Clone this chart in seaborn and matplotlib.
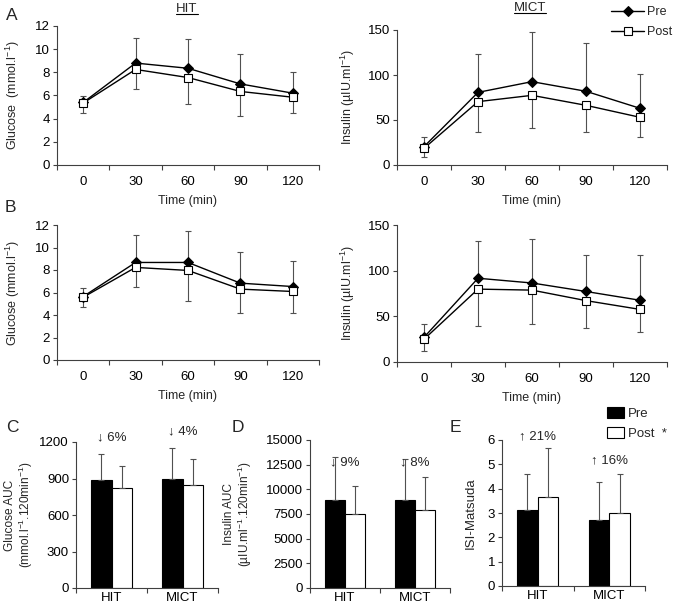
import numpy as np
import pandas as pd
import matplotlib
matplotlib.use('Agg')
import matplotlib.pyplot as plt
import seaborn as sns
from matplotlib.lines import Line2D
from matplotlib.patches import Patch

# OGTT time points
times = ['0', '30', '60', '90', '120']

# panel A (glucose / insulin), mean and SD
a_glu_pre = [5.4, 8.8, 8.35, 7.0, 6.2]
a_glu_post = [5.35, 8.25, 7.55, 6.35, 5.85]
a_glu_pre_sd = [0.55, 2.2, 2.5, 2.55, 1.8]
a_glu_post_sd = [0.9, 1.65, 2.25, 2.15, 1.4]

a_ins_pre = [20.4, 80.7, 92.6, 81.9, 63.0]
a_ins_post = [18.5, 70.4, 77.4, 66.3, 53.0]
a_ins_pre_sd = [10.3, 42.3, 55.4, 54.1, 37.7]
a_ins_post_sd = [10.0, 34.1, 36.3, 30.0, 22.3]

# panel B
b_glu_pre = [5.64, 8.67, 8.67, 6.83, 6.53]
b_glu_post = [5.58, 8.23, 7.96, 6.3, 6.09]
b_glu_pre_sd = [0.8, 2.41, 2.76, 2.73, 2.29]
b_glu_post_sd = [0.89, 1.76, 2.7, 2.14, 1.87]

b_ins_pre = [27.0, 91.7, 86.5, 77.2, 67.6]
b_ins_post = [24.9, 79.8, 78.7, 67.2, 57.6]
b_ins_pre_sd = [15.0, 41.2, 47.9, 39.8, 50.1]
b_ins_post_sd = [13.0, 40.1, 36.7, 30.4, 24.9]

# panels C-E (bars)
groups = ['HIT', 'MICT']
glu_auc_pre = [890, 900]
glu_auc_post = [825, 850]
glu_auc_pre_sd = [210, 250]
glu_auc_post_sd = [175, 210]

ins_auc_pre = [8900, 8900]
ins_auc_post = [7550, 7900]
ins_auc_pre_sd = [4400, 4150]
ins_auc_post_sd = [2830, 3330]

isi_pre = [3.12, 2.71]
isi_post = [3.64, 2.99]
isi_pre_sd = [1.48, 1.55]
isi_post_sd = [2.03, 1.6]

glu_auc_change = ['\u2193 6%', '\u2193 4%']
ins_auc_change = ['\u2193 9%', '\u2193 8%']
isi_change = ['\u2191 21%', '\u2191 16%']

sns.set_style('ticks')
plt.rcParams['font.family'] = ['Liberation Sans', 'DejaVu Sans']
plt.rcParams['mathtext.fontset'] = 'custom'
plt.rcParams['mathtext.rm'] = 'Liberation Sans'
plt.rcParams['mathtext.default'] = 'regular'
plt.rcParams['axes.edgecolor'] = '#404040'
plt.rcParams['xtick.color'] = '#404040'
plt.rcParams['ytick.color'] = '#404040'
plt.rcParams['xtick.labelcolor'] = 'black'
plt.rcParams['ytick.labelcolor'] = 'black'
plt.rcParams['axes.linewidth'] = 0.8

W, H = 675, 608
fig = plt.figure(figsize=(W / 100, H / 100), dpi=100)


def px_axes(left, top, right, bottom):
    return fig.add_axes([left / W, 1 - bottom / H, (right - left) / W, (bottom - top) / H])


ERR = '#505050'
TICK_FS = 9.5
LAB_FS = 9


def line_panel(ax, pre, post, pre_sd, post_sd, ymax, ystep, ylabel):
    x = np.arange(len(times))
    ax.errorbar(x, pre, yerr=[np.zeros(len(x)), pre_sd], fmt='none', ecolor=ERR,
                elinewidth=0.8, capsize=2.5, capthick=0.8, zorder=1)
    ax.errorbar(x, post, yerr=[post_sd, np.zeros(len(x))], fmt='none', ecolor=ERR,
                elinewidth=0.8, capsize=2.5, capthick=0.8, zorder=1)
    sns.lineplot(x=x, y=pre, ax=ax, color='black', lw=1, marker='D', markersize=5.5,
                 markerfacecolor='black', markeredgecolor='black', label='Pre', legend=False, zorder=3)
    sns.lineplot(x=x, y=post, ax=ax, color='black', lw=1, marker='s', markersize=6,
                 markerfacecolor='white', markeredgecolor='black', markeredgewidth=0.8,
                 label='Post', legend=False, zorder=4)
    ax.set_xlim(-0.5, len(times) - 0.5)
    ax.set_xticks(x)
    ax.set_xticklabels(times)
    ax.set_xticks(np.arange(-0.5, len(times), 1), minor=True)
    ax.tick_params(axis='x', which='major', length=0, pad=8, labelsize=TICK_FS)
    ax.tick_params(axis='x', which='minor', length=3.5, width=0.8, direction='out')
    ax.set_ylim(0, ymax)
    ax.set_yticks(np.arange(0, ymax + 0.1, ystep))
    ax.tick_params(axis='y', length=3, width=0.8, labelsize=TICK_FS, pad=2)
    ax.set_xlabel('Time (min)', fontsize=LAB_FS, labelpad=5)
    ax.set_ylabel(ylabel, fontsize=LAB_FS)
    sns.despine(ax=ax)


def bar_panel(ax, pre, post, pre_sd, post_sd, ymax, ystep, ylabel, ylabel_fs, changes, text_y):
    df = pd.DataFrame({'group': groups * 2,
                       'time': ['Pre'] * len(groups) + ['Post'] * len(groups),
                       'value': list(pre) + list(post)})
    sns.barplot(data=df, x='group', y='value', hue='time', ax=ax,
                palette={'Pre': 'black', 'Post': 'white'}, edgecolor='black',
                linewidth=0.8, width=0.58, errorbar=None, legend=False)
    for cont, sd in zip(ax.containers, [pre_sd, post_sd]):
        xs = [b.get_x() + b.get_width() / 2 for b in cont]
        hs = [b.get_height() for b in cont]
        ax.errorbar(xs, hs, yerr=[np.zeros(len(xs)), sd], fmt='none', ecolor=ERR,
                    elinewidth=0.8, capsize=2.5, capthick=0.8, zorder=1)
    for i, (s, ty) in enumerate(zip(changes, text_y)):
        ax.text(i, ty, s, ha='center', va='center', fontsize=TICK_FS, clip_on=False)
    ax.set_xlim(-0.5, len(groups) - 0.5)
    ax.set_xticks(np.arange(-0.5, len(groups), 1), minor=True)
    ax.tick_params(axis='x', which='major', length=0, pad=3, labelsize=TICK_FS)
    ax.tick_params(axis='x', which='minor', length=3.5, width=0.8, direction='out')
    ax.set_ylim(0, ymax)
    ax.set_yticks(np.arange(0, ymax + 0.01, ystep))
    ax.tick_params(axis='y', length=3, width=0.8, labelsize=TICK_FS, pad=2)
    ax.set_xlabel('')
    ax.set_ylabel(ylabel, fontsize=ylabel_fs, linespacing=1.05)
    sns.despine(ax=ax)


axA1 = px_axes(57, 26, 319, 165)
axA2 = px_axes(397, 30, 667, 165)
axB1 = px_axes(57, 225, 319, 360)
axB2 = px_axes(397, 225, 667, 362)
axC = px_axes(76, 442, 218, 588)
axD = px_axes(310, 440, 450, 588)
axE = px_axes(502, 440, 645, 586)

line_panel(axA1, a_glu_pre, a_glu_post, a_glu_pre_sd, a_glu_post_sd, 12, 2,
           'Glucose  (mmol.l$^{-1}$)')
line_panel(axA2, a_ins_pre, a_ins_post, a_ins_pre_sd, a_ins_post_sd, 150, 50,
           'Insulin (\u00b5IU.ml$^{-1}$)')
line_panel(axB1, b_glu_pre, b_glu_post, b_glu_pre_sd, b_glu_post_sd, 12, 2,
           'Glucose (mmol.l$^{-1}$)')
line_panel(axB2, b_ins_pre, b_ins_post, b_ins_pre_sd, b_ins_post_sd, 150, 50,
           'Insulin (\u00b5IU.ml$^{-1}$)')

bar_panel(axC, glu_auc_pre, glu_auc_post, glu_auc_pre_sd, glu_auc_post_sd, 1200, 300,
          'Glucose AUC\n(mmol.l$^{-1}$.120min$^{-1}$)', 8.6, glu_auc_change, [1235, 1285])
bar_panel(axD, ins_auc_pre, ins_auc_post, ins_auc_pre_sd, ins_auc_post_sd, 15000, 2500,
          'Insulin AUC\n(\u00b5IU.ml$^{-1}$.120min$^{-1}$)', 8.6, ins_auc_change, [12700, 12700])
bar_panel(axE, isi_pre, isi_post, isi_pre_sd, isi_post_sd, 6, 1,
          'ISI-Matsuda', 9.5, isi_change, [6.15, 5.15])

# y label anchors (right edge of the rotated label)
for ax in (axA1, axB1):
    ax.yaxis.set_label_coords(-0.132, 0.5)
for ax in (axA2, axB2):
    ax.yaxis.set_label_coords(-0.15, 0.5)
axC.yaxis.set_label_coords(-0.29, 0.5)
axD.yaxis.set_label_coords(-0.40, 0.5)
axE.yaxis.set_label_coords(-0.175, 0.5)

# panel letters
for s, x, y in [('A', 12, 15), ('B', 10, 207), ('C', 12, 428), ('D', 238, 428), ('E', 455, 428)]:
    fig.text(x / W, 1 - y / H, s, fontsize=12.5, ha='center', va='center')

# underlined column titles
fig.canvas.draw()
for s, x, y in [('HIT', 187, 9), ('MICT', 530, 8)]:
    t = fig.text(x / W, 1 - y / H, s, fontsize=9.5, ha='center', va='center')
    fig.canvas.draw()
    bb = t.get_window_extent().transformed(fig.transFigure.inverted())
    fig.add_artist(Line2D([bb.x0, bb.x1], [bb.y0 + 0.001, bb.y0 + 0.001],
                          transform=fig.transFigure, color='black', lw=0.8))

# legends
handles, labels = axA2.get_legend_handles_labels()
fig.legend(handles, labels, loc='upper left', bbox_to_anchor=(605 / W, 1 - 0 / H),
           frameon=False, fontsize=9, handlelength=2.6, handletextpad=0.25,
           labelspacing=0.65, borderpad=0)

bar_handles = [Patch(facecolor='black', edgecolor='black', lw=0.8),
               Patch(facecolor='white', edgecolor='black', lw=0.8)]
fig.legend(bar_handles, ['Pre', 'Post  *'], loc='upper left', bbox_to_anchor=(600 / W, 1 - 400 / H),
           frameon=False, fontsize=9.5, handlelength=1.3, handleheight=1.0,
           handletextpad=0.3, labelspacing=0.5, borderpad=0)

fig.savefig('out.png', dpi=100)
